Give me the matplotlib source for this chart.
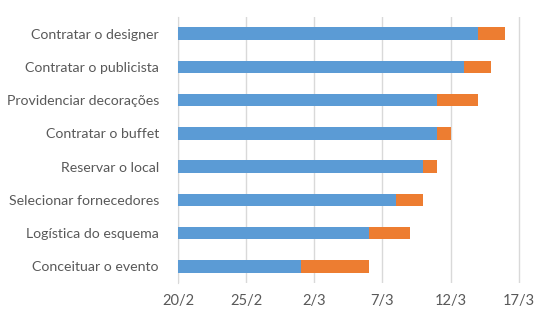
import datetime as dt
import matplotlib
matplotlib.use("Agg")
import matplotlib.pyplot as plt
import matplotlib.dates as mdates

# Tasks (top to bottom as shown) with start date and duration in days
tarefas = ["Contratar o designer", "Contratar o publicista", "Providenciar decorações",
           "Contratar o buffet", "Reservar o local", "Selecionar fornecedores",
           "Logística do esquema", "Conceituar o evento"]
inicio = ["2023-03-14", "2023-03-13", "2023-03-11", "2023-03-11",
          "2023-03-10", "2023-03-08", "2023-03-06", "2023-03-01"]
duracao = [2, 2, 3, 1, 1, 2, 3, 5]
ticks = ["2023-02-20", "2023-02-25", "2023-03-02", "2023-03-07", "2023-03-12", "2023-03-17"]

base = dt.date(2023, 2, 20)
inicio_d = [mdates.date2num(dt.date.fromisoformat(d)) for d in inicio]
x0 = mdates.date2num(base)

plt.rcParams['font.family'] = ['Lato', 'DejaVu Sans']
fig = plt.figure(figsize=(5.51, 3.22), dpi=100)
ax = fig.add_axes([0.3236, 0.121, 0.667, 0.826])

y = list(range(len(tarefas)))[::-1]
ax.barh(y, [s - x0 for s in inicio_d], left=x0, height=0.38, color="#5B9BD5", zorder=3)
ax.barh(y, duracao, left=inicio_d, height=0.38, color="#ED7D31", zorder=3)

ax.set_ylim(-0.5, len(tarefas) - 0.5)
ax.set_xlim(x0, x0 + 27)
ax.set_yticks(y)
ax.set_yticklabels(tarefas, fontsize=10.2, color="#595959")
tick_pos = [mdates.date2num(dt.date.fromisoformat(d)) for d in ticks]
ax.set_xticks(tick_pos)
ax.set_xticklabels([f"{dt.date.fromisoformat(d).day}/{dt.date.fromisoformat(d).month}" for d in ticks],
                   fontsize=10.5, color="#595959")
ax.tick_params(length=0, pad=8)
ax.tick_params(axis='y', pad=14)
ax.grid(axis='x', color="#d9d9d9", linewidth=1, zorder=0)
for s in ["top", "right", "bottom"]:
    ax.spines[s].set_visible(False)
ax.spines["left"].set_color("#d9d9d9")

fig.savefig("out.png", dpi=100)
